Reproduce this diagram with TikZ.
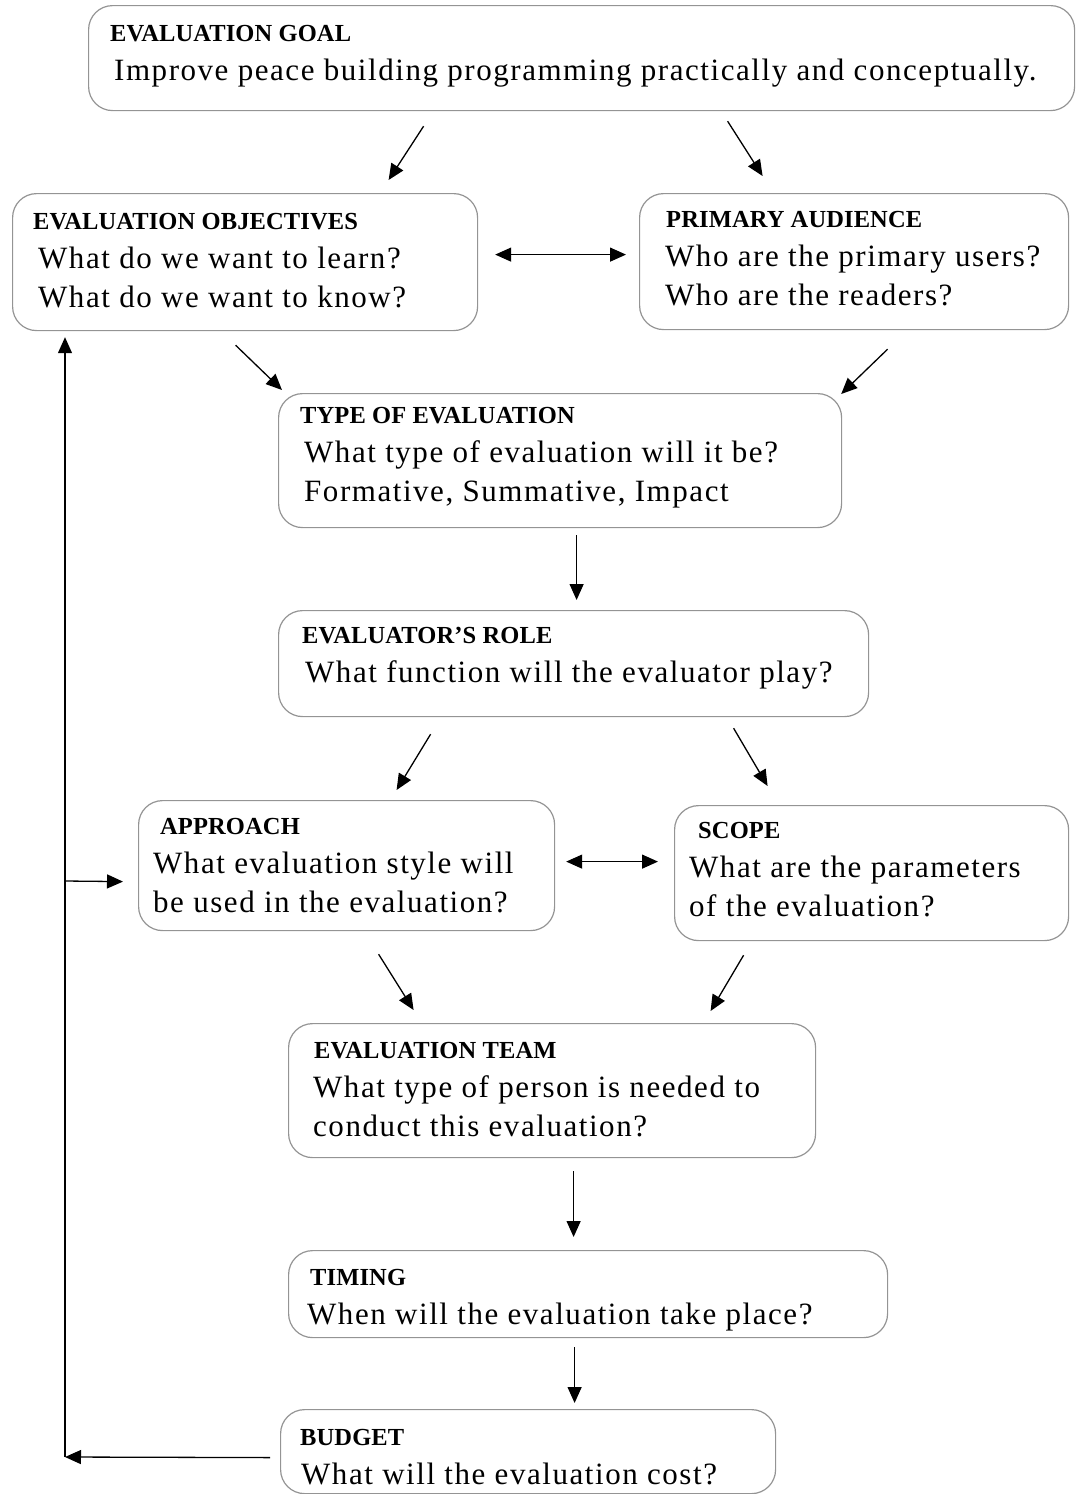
\documentclass[tikz,border=0pt]{standalone}
\usepackage{fontspec}
\setmainfont{Liberation Serif}[LetterSpace=5]
\usetikzlibrary{arrows.meta}
\newcommand\bodyfont{\fontsize{31}{39}\selectfont}
\newcommand\ttl[2][0]{\hspace*{#1pt}{\bfseries\fontsize{24.5}{39}\selectfont\addfontfeature{LetterSpace=0.5}#2}}
\begin{document}
\begin{tikzpicture}[x=1pt,y=-1pt,
  box/.style={draw=black!42, line width=1.2pt, rounded corners=24pt, inner sep=0pt, fill=none},
  txt/.style={anchor=base west, align=left, inner sep=0pt, font=\bodyfont},
  arr/.style={line width=1.3pt, -{Triangle[length=16pt,width=14pt]}},
  darr/.style={line width=1.3pt, {Triangle[length=16pt,width=14pt]}-{Triangle[length=16pt,width=14pt]}}]
\useasboundingbox (0,0) rectangle (1078,1494);

% boxes
\node[box, anchor=north west, minimum width=986pt, minimum height=105pt] (goal) at (88,5) {};
\node[box, anchor=north west, minimum width=465pt, minimum height=137pt] (obj) at (12,193) {};
\node[box, anchor=north west, minimum width=429pt, minimum height=136pt] (aud) at (639,193) {};
\node[box, anchor=north west, minimum width=563pt, minimum height=134pt] (type) at (278,393) {};
\node[box, anchor=north west, minimum width=590pt, minimum height=106pt] (role) at (278,610) {};
\node[box, anchor=north west, minimum width=416pt, minimum height=130pt] (appr) at (138,800) {};
\node[box, anchor=north west, minimum width=394pt, minimum height=135pt] (scope) at (674,805) {};
\node[box, anchor=north west, minimum width=527pt, minimum height=134pt] (team) at (288,1023) {};
\node[box, anchor=north west, minimum width=599pt, minimum height=87pt] (timing) at (288,1250) {};
\node[box, anchor=north west, minimum width=495pt, minimum height=84pt] (budget) at (280,1409) {};

% texts (anchor = baseline of the last line)
\node[txt] (goalT) at (114,80) {\ttl[-4]{EVALUATION GOAL}\\Improve peace building programming practically and conceptually.};
\node[txt] (objT) at (38,307) {\ttl[-5]{EVALUATION OBJECTIVES}\\What do we want to learn?\\What do we want to know?};
\node[txt] (audT) at (665,305) {\ttl[1]{PRIMARY AUDIENCE}\\Who are the primary users?\\Who are the readers?};
\node[txt] (typeT) at (304,501) {\ttl[-4]{TYPE OF EVALUATION}\\What type of evaluation will it be?\\Formative, Summative, Impact};
\node[txt] (roleT) at (305,682) {\ttl[-3]{EVALUATOR'S ROLE}\\What function will the evaluator play?};
\node[txt] (apprT) at (153,912) {\ttl[7]{APPROACH}\\What evaluation style will\\be used in the evaluation?};
\node[txt] (scopeT) at (689,916) {\ttl[9]{SCOPE}\\What are the parameters\\of the evaluation?};
\node[txt] (teamT) at (313,1136) {\ttl[1]{EVALUATION TEAM}\\What type of person is needed to\\conduct this evaluation?};
\node[txt] (timingT) at (307,1324) {\ttl[3]{TIMING}\\When will the evaluation take place?};
\node[txt] (budgetT) at (301,1484) {\ttl[-1]{BUDGET}\\What will the evaluation cost?};

% connectors
\draw[arr] ([shift={(-158,15)}]goal.south) -- ([shift={(143.5,-13)}]obj.north);
\draw[arr] ([shift={(146,10)}]goal.south) -- ([shift={(-91.5,-17)}]aud.north);
\draw[darr] ([shift={(17,-7.5)}]obj.east) -- ([shift={(-13,-7)}]aud.west);
\draw[arr] ([shift={(-9.5,14)}]obj.south) -- ([shift={(4,-3)}]type.north west);
\draw[arr] ([shift={(33.5,19)}]aud.south) -- ([shift={(-1,1)}]type.north east);
\draw[arr] ([shift={(16.5,7)}]type.south) -- ([shift={(3,-10)}]role.north);
\draw[arr] ([shift={(-143,17)}]role.south) -- ([shift={(50,-10)}]appr.north);
\draw[arr] ([shift={(160,11)}]role.south) -- ([shift={(-104,-19)}]scope.north);
\draw[darr] ([shift={(11,-4)}]appr.east) -- ([shift={(-16,-11.5)}]scope.west);
\draw[arr] ([shift={(32,23)}]appr.south) -- ([shift={(-138.5,-13)}]team.north);
\draw[arr] ([shift={(-128,14)}]scope.south) -- ([shift={(158.5,-12)}]team.north);
\draw[arr] ([shift={(21.5,13)}]team.south) -- ([shift={(-14.5,-13)}]timing.north);
\draw[arr] ([shift={(-13.5,9)}]timing.south) -- ([shift={(46.5,-6)}]budget.north);

% feedback loop
\coordinate (fbk) at (65,1457);
\coordinate (br) at (65,881);
\draw[arr] ([shift={(-10,6)}]budget.west) -- (fbk);
\draw[arr] (fbk) -- ([shift={(53,6)}]obj.south west);
\draw[arr] (br) -- ([shift={(-15,16)}]appr.west);
\end{tikzpicture}
\end{document}
